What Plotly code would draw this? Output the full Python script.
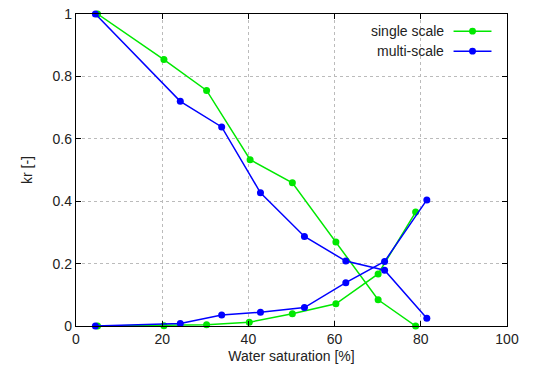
import plotly.graph_objects as go

# single scale
ss_x_dec = [5.0, 20.4, 30.3, 40.4, 50.2, 60.3, 70.1, 78.8]
ss_y_dec = [1.0, 0.854, 0.755, 0.533, 0.459, 0.269, 0.084, 0.0]
ss_x_inc = [5.0, 20.4, 30.3, 40.2, 50.2, 60.3, 70.1, 78.8]
ss_y_inc = [0.0, 0.001, 0.004, 0.012, 0.039, 0.071, 0.167, 0.365]

# multi-scale
ms_x_dec = [4.5, 24.2, 33.8, 42.8, 53.0, 62.6, 71.6, 81.4]
ms_y_dec = [1.0, 0.72, 0.638, 0.427, 0.287, 0.208, 0.179, 0.025]
ms_x_inc = [4.5, 24.2, 33.8, 42.8, 53.0, 62.6, 71.6, 81.4]
ms_y_inc = [0.0, 0.008, 0.035, 0.044, 0.059, 0.139, 0.207, 0.404]

x_ticks = [0, 20, 40, 60, 80, 100]
y_ticks = [0, 0.2, 0.4, 0.6, 0.8, 1]

GREEN = "#00e800"
BLUE = "#0000ff"
FONT = "Liberation Sans, Arial, sans-serif"
FS = 14

fig = go.Figure()
for xs, ys, col in [(ss_x_dec, ss_y_dec, GREEN), (ss_x_inc, ss_y_inc, GREEN),
                    (ms_x_dec, ms_y_dec, BLUE), (ms_x_inc, ms_y_inc, BLUE)]:
    fig.add_trace(go.Scatter(x=xs, y=ys, mode="lines+markers",
                             line=dict(color=col, width=1.5),
                             marker=dict(color=col, size=7),
                             showlegend=False, cliponaxis=False))

# legend drawn gnuplot-style (text then sample on the right)
legend_items = [("single scale", GREEN), ("multi-scale", BLUE)]
for i, (name, col) in enumerate(legend_items):
    yp = 0.945 - i * 0.064
    fig.add_annotation(x=0.858, y=yp, xref="paper", yref="paper", text=name,
                       showarrow=False, xanchor="right", yanchor="middle",
                       font=dict(family=FONT, size=FS, color="#222"))
    fig.add_shape(type="line", xref="paper", yref="paper",
                  x0=0.876, x1=0.964, y0=yp, y1=yp, line=dict(color=col, width=1.5))
    fig.add_shape(type="circle", xref="paper", yref="paper",
                  x0=0.92 - 0.008, x1=0.92 + 0.008, y0=yp - 0.011, y1=yp + 0.011,
                  fillcolor=col, line=dict(color=col, width=0))

axis_common = dict(showline=True, linecolor="black", linewidth=1.3, mirror="ticks",
                   ticks="inside", ticklen=5, tickcolor="black", automargin=False,
                   showgrid=True, gridcolor="#bbbbbb", griddash="dot", gridwidth=1,
                   zeroline=False, tickfont=dict(family=FONT, size=FS, color="#222"))

fig.update_xaxes(range=[0, 100], tickvals=x_ticks,
                 title=dict(text="Water saturation [%]", standoff=5,
                            font=dict(family=FONT, size=FS, color="#222")),
                 **axis_common)
fig.update_yaxes(range=[0, 1], tickvals=y_ticks, ticktext=[str(v) for v in y_ticks],
                 title=dict(text="kr [-]", standoff=16,
                            font=dict(family=FONT, size=FS, color="#222")),
                 **axis_common)

fig.update_layout(width=536, height=367, margin=dict(l=76, r=29, t=14, b=41, autoexpand=False),
                  plot_bgcolor="white", paper_bgcolor="white", showlegend=False)

fig.write_html("out.html")
